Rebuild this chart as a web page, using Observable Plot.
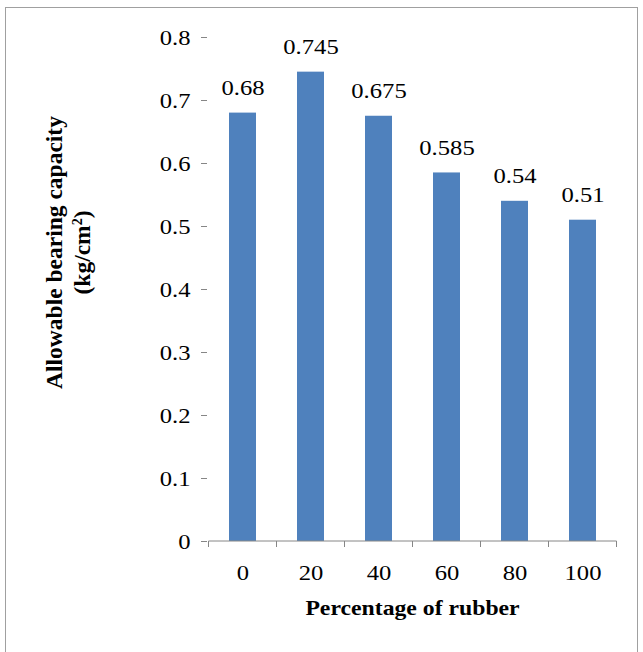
<!DOCTYPE html>
<html><head><meta charset="utf-8">
<script src="https://cdn.jsdelivr.net/npm/d3@7"></script>
<script src="https://cdn.jsdelivr.net/npm/@observablehq/plot@0.6"></script>
<style>
html,body{margin:0;padding:0;background:#fff;}
#wrap{position:relative;width:643px;height:652px;overflow:hidden;}
#frame{position:absolute;left:5px;top:7px;width:633px;height:680px;border:1px solid #a0a0a0;box-sizing:border-box;}
#chart{position:absolute;left:0;top:0;}
</style></head>
<body><div id="wrap"><div id="frame"></div><div id="chart"></div></div>
<script>
const categories = ["0", "20", "40", "60", "80", "100"];
const values = [0.68, 0.745, 0.675, 0.585, 0.54, 0.51];
const valueLabels = ["0.68", "0.745", "0.675", "0.585", "0.54", "0.51"];
const yTicks = [0, 0.1, 0.2, 0.3, 0.4, 0.5, 0.6, 0.7, 0.8];
const xTitle = "Percentage of rubber";
const yTitleLine1 = "Allowable bearing capacity";
const yTitleLine2 = ["(kg/cm", "2", ")"];

const data = categories.map((c, i) => ({cat: c, v: values[i], lab: valueLabels[i]}));
const font = "Liberation Serif, Times New Roman, serif";
const axisColor = "#868686";

const plot = Plot.plot({
  width: 643, height: 652,
  marginLeft: 207, marginTop: 37, marginRight: 25, marginBottom: 111,
  style: {fontSize: "22px", color: "#000", background: "transparent", fontFamily: font},
  x: {domain: categories, paddingInner: 0.6, paddingOuter: 0.3, label: null},
  y: {domain: [0, 0.8], label: null},
  marks: [
    Plot.barY(data, {x: "cat", y: "v", fill: "#4F81BD"}),
    Plot.text(data, {x: "cat", y: "v", text: "lab", dy: -25, fontSize: 22, fill: "#000", fontFamily: font}),
    Plot.axisY({ticks: yTicks, tickFormat: d => d === 0 ? "0" : d3.format(".1f")(d), tickSize: 6, tickPadding: 11, stroke: axisColor, fontSize: 22, fontFamily: font, color: "#000", label: null}),
    Plot.ruleX([0], {frameAnchor: "left", stroke: axisColor}),
    Plot.axisX({tickSize: 0, tickPadding: 23, fontSize: 22, fontFamily: font, label: null})
  ]
});
document.getElementById("chart").appendChild(plot);

const svg = d3.select(plot);
// slight horizontal stretch of labels, as in the reference
svg.selectAll("text").each(function () {
  const t = this.getAttribute("transform") || "";
  this.setAttribute("transform", (t + " scale(1.12,1)").trim());
});

const xs = plot.scale("x");
const ys = plot.scale("y");
const step = xs.step;
const gap = step - xs.bandwidth;
const bounds = categories.map(c => xs.apply(c) - gap / 2);
bounds.push(bounds[bounds.length - 1] + step);
const y0 = ys.apply(0);
svg.append("g").selectAll("line").data(bounds).join("line")
  .attr("x1", d => d).attr("x2", d => d).attr("y1", y0).attr("y2", y0 + 6)
  .attr("stroke", axisColor);
svg.append("line").attr("x1", bounds[0]).attr("x2", bounds[6]).attr("y1", y0).attr("y2", y0).attr("stroke", axisColor);

svg.append("text")
  .attr("transform", `translate(${(bounds[0] + bounds[6]) / 2},615) scale(1.13,1)`)
  .attr("text-anchor", "middle").attr("font-weight", "bold").attr("font-size", 21)
  .attr("font-family", font).attr("fill", "#000")
  .text(xTitle);

const yt = svg.append("text").attr("transform", "translate(62,252.5) rotate(-90)")
  .attr("text-anchor", "middle").attr("font-weight", "bold").attr("font-size", 23.5)
  .attr("font-family", font).attr("fill", "#000");
yt.append("tspan").attr("x", 0).attr("y", 0).text(yTitleLine1);
const l2 = yt.append("tspan").attr("x", 0).attr("y", 28);
l2.append("tspan").text(yTitleLine2[0]);
l2.append("tspan").attr("dy", -8).attr("font-size", 14).text(yTitleLine2[1]);
l2.append("tspan").attr("dy", 8).text(yTitleLine2[2]);
</script>
</body></html>
